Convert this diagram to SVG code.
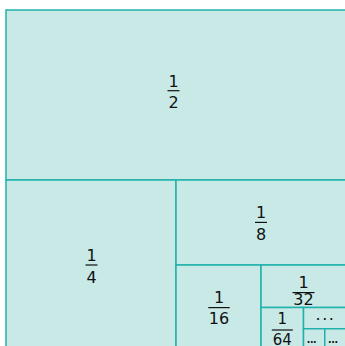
<svg xmlns="http://www.w3.org/2000/svg" width="345" height="346" viewBox="0 0 345 346">
<style>
.cell{fill:#c8e9e6;stroke:#20b2aa;stroke-width:1.5}
.t{font-family:"DejaVu Sans",Verdana,sans-serif;font-size:16px;fill:#111111;text-anchor:middle}
.s{font-size:15px}
.bar{stroke:#111111;stroke-width:1.2}
.dots{font-family:"DejaVu Sans",Verdana,sans-serif;font-size:16px;fill:#111111}
</style>
<rect x="0" y="0" width="345" height="346" fill="#ffffff"/>
<g id="half">
<rect class="cell" x="6" y="10" width="340" height="170"/>
<text class="t" x="173.5" y="86.8">1</text>
<line class="bar" x1="167.5" y1="90.7" x2="179.5" y2="90.7"/>
<text class="t" x="173.5" y="108">2</text>
</g>
<g id="quarter">
<rect class="cell" x="6" y="180" width="170" height="170"/>
<text class="t" x="91.5" y="260.8">1</text>
<line class="bar" x1="85.5" y1="265" x2="97.5" y2="265"/>
<text class="t" x="91.5" y="282.8">4</text>
</g>
<g id="eighth">
<rect class="cell" x="176" y="180" width="170" height="85"/>
<text class="t" x="261" y="218.4">1</text>
<line class="bar" x1="255" y1="222.4" x2="267" y2="222.4"/>
<text class="t" x="261" y="240.2">8</text>
</g>
<g id="sixteenth">
<rect class="cell" x="176" y="265" width="85" height="85"/>
<text class="t" x="219" y="303.4">1</text>
<line class="bar" x1="208.3" y1="307.6" x2="229.7" y2="307.6"/>
<text class="t" x="219" y="324.3">16</text>
</g>
<g id="thirtysecond">
<rect class="cell" x="261" y="265" width="85" height="42.5"/>
<text class="t" x="303.5" y="287.5">1</text>
<line class="bar" x1="292.5" y1="292.6" x2="314.5" y2="292.6"/>
<text class="t" x="303.5" y="305.4">32</text>
</g>
<g id="sixtyfourth">
<rect class="cell" x="261" y="307.5" width="42.5" height="42.5"/>
<text class="t s" x="282.3" y="324.3">1</text>
<line class="bar" x1="271.8" y1="330" x2="292.8" y2="330"/>
<text class="t s" x="282.3" y="344.6">64</text>
</g>
<g id="rest1">
<rect class="cell" x="303.5" y="307.5" width="42.5" height="21.25"/>
<text class="dots" x="315.5" y="320" letter-spacing="1.6">...</text>
</g>
<g id="rest2">
<rect class="cell" x="303.5" y="328.75" width="21.25" height="21.25"/>
<text class="dots" x="306" y="343.3" letter-spacing="-1.9">...</text>
</g>
<g id="rest3">
<rect class="cell" x="324.75" y="328.75" width="21.25" height="21.25"/>
<text class="dots" x="327.3" y="343.3" letter-spacing="-1.9">...</text>
</g>
<g id="connectors"></g>
</svg>
